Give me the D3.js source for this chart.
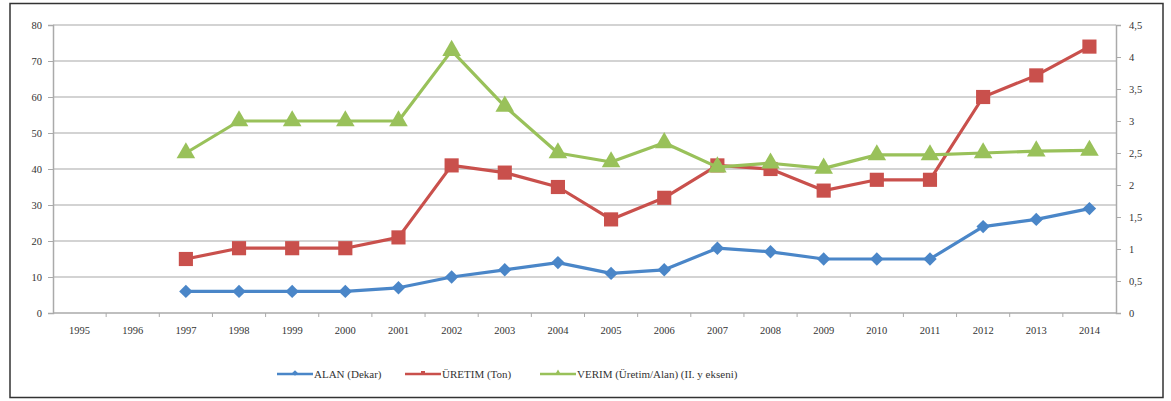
<!DOCTYPE html>
<html>
<head>
<meta charset="utf-8">
<script src="https://cdn.jsdelivr.net/npm/d3@7"></script>
<style>
  body { margin: 0; background: #fff; }
  svg { display: block; }
</style>
</head>
<body>
<div id="chart"></div>
<script>
// veriler
const years = ["1995", "1996", "1997", "1998", "1999", "2000", "2001", "2002", "2003", "2004",
    "2005", "2006", "2007", "2008", "2009", "2010", "2011", "2012", "2013", "2014"];
const alan = [null, null, 6, 6, 6, 6, 7, 10, 12, 14, 11, 12, 18, 17, 15, 15, 15, 24, 26, 29];
const uretim = [null, null, 15, 18, 18, 18, 21, 41, 39, 35, 26, 32, 41, 40, 34, 37, 37, 60, 66, 74];
const verim = [null, null, 2.5, 3.0, 3.0, 3.0, 3.0, 4.1, 3.23, 2.5, 2.36, 2.66, 2.28, 2.34, 2.26, 2.47, 2.47, 2.5, 2.53, 2.54];
const leftTicks = [0, 10, 20, 30, 40, 50, 60, 70, 80];
const rightTicks = [0, 0.5, 1, 1.5, 2, 2.5, 3, 3.5, 4, 4.5];
const seriesNames = ["ALAN (Dekar)", "ÜRETIM  (Ton)", "VERIM (Üretim/Alan) (II. y ekseni)"];

const width = 1171, height = 401;
const margin = { left: 53, right: 55, top: 25, bottom: 88 };
const innerWidth = width - margin.left - margin.right;
const innerHeight = height - margin.top - margin.bottom;

const colors = ["#4a86c8", "#c9504c", "#99c15a"];
const serifFont = "'Liberation Serif', 'Times New Roman', 'DejaVu Serif', serif";

const svg = d3.select("#chart").append("svg")
    .attr("width", width)
    .attr("height", height)
    .attr("font-family", serifFont);

// dış çerçeve
svg.append("rect")
    .attr("x", 10).attr("y", 3.5)
    .attr("width", 1153).attr("height", 394)
    .attr("fill", "none")
    .attr("stroke", "#333")
    .attr("stroke-width", 1.5);

const g = svg.append("g").attr("transform", `translate(${margin.left},${margin.top})`);

const x = d3.scaleBand().domain(years).range([0, innerWidth]);
const yLeft = d3.scaleLinear().domain([0, 80]).range([innerHeight, 0]);
const yRight = d3.scaleLinear().domain([0, 4.5]).range([innerHeight, 0]);

// ızgara çizgileri
g.selectAll(".grid").data(leftTicks.slice(1)).join("line")
    .attr("class", "grid")
    .attr("x1", 0).attr("x2", innerWidth)
    .attr("y1", d => yLeft(d)).attr("y2", d => yLeft(d))
    .attr("stroke", "#c4c4c4")
    .attr("stroke-width", 1.5);

// eksenler
const fmtComma = d => String(d).replace(".", ",");

const axL = g.append("g")
    .call(d3.axisLeft(yLeft).tickValues(leftTicks).tickSize(5).tickPadding(6));
const axR = g.append("g")
    .attr("transform", `translate(${innerWidth},0)`)
    .call(d3.axisRight(yRight).tickValues(rightTicks).tickFormat(fmtComma).tickSize(5).tickPadding(8));
const axB = g.append("g")
    .attr("transform", `translate(0,${innerHeight})`)
    .call(d3.axisBottom(x).tickSize(0).tickPadding(14));

// kategori sınırlarındaki küçük çentikler
g.append("g").selectAll("line").data(years.slice(1)).join("line")
    .attr("x1", d => x(d)).attr("x2", d => x(d))
    .attr("y1", innerHeight).attr("y2", innerHeight + 4)
    .attr("stroke", "#aaa");

[axL, axR, axB].forEach(ax => {
    ax.attr("font-family", serifFont);
    ax.selectAll(".domain").attr("stroke", "#aaa").attr("stroke-width", 1.5);
    ax.selectAll(".tick line").attr("stroke", "#aaa");
    ax.selectAll("text")
        .attr("font-family", serifFont)
        .style("font-size", "10.5px")
        .attr("fill", "#333");
});
axB.select(".domain").attr("d", `M0,0H${innerWidth}`);

// seriler
const cx = i => x(years[i]) + x.bandwidth() / 2;
const series = [
    { values: alan, scale: yLeft, symbol: d3.symbolSquare, size: 90, rotate: 45 },
    { values: uretim, scale: yLeft, symbol: d3.symbolSquare, size: 200, rotate: 0 },
    { values: verim, scale: yRight, symbol: d3.symbolTriangle, size: 150, rotate: 0 }
];

series.forEach((s, k) => {
    const pts = s.values.map((v, i) => [i, v]).filter(d => d[1] !== null);
    const line = d3.line().x(d => cx(d[0])).y(d => s.scale(d[1]));
    g.append("path")
        .datum(pts)
        .attr("d", line)
        .attr("fill", "none")
        .attr("stroke", colors[k])
        .attr("stroke-width", 3.2)
        .attr("stroke-linejoin", "round");
    g.selectAll(".m" + k).data(pts).join("path")
        .attr("class", "m" + k)
        .attr("transform", d => `translate(${cx(d[0])},${s.scale(d[1])}) rotate(${s.rotate})`)
        .attr("d", d3.symbol().type(s.symbol).size(s.size))
        .attr("fill", colors[k]);
});

// lejant
const legendX = [277, 405, 540];
const legend = svg.append("g").attr("transform", "translate(0,374)");
seriesNames.forEach((name, k) => {
    legend.append("line")
        .attr("x1", legendX[k]).attr("x2", legendX[k] + 36)
        .attr("y1", 0).attr("y2", 0)
        .attr("stroke", colors[k]).attr("stroke-width", 2.5);
    legend.append("path")
        .attr("transform", `translate(${legendX[k] + 18},-1) rotate(${series[k].rotate})`)
        .attr("d", d3.symbol().type(series[k].symbol).size(16))
        .attr("fill", colors[k]);
    legend.append("text")
        .attr("x", legendX[k] + 37)
        .attr("y", 4)
        .attr("font-family", serifFont)
        .style("font-size", "11px")
        .attr("fill", "#333")
        .text(name);
});
</script>
</body>
</html>
